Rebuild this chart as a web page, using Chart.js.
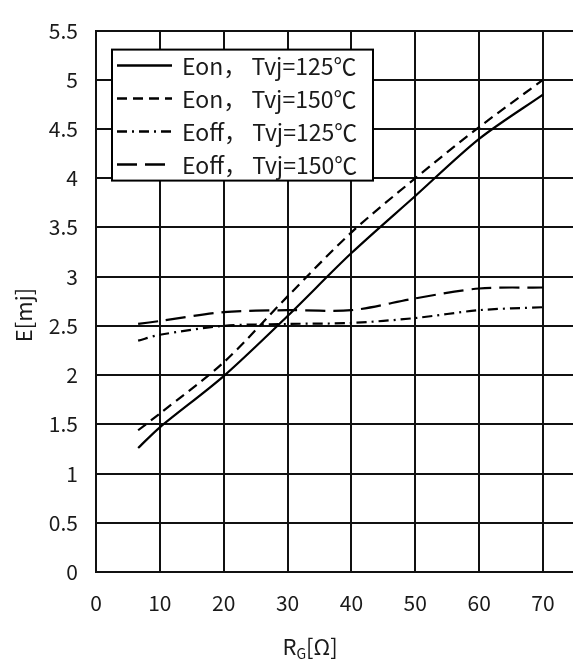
<!DOCTYPE html>
<html>
<head>
<meta charset="utf-8">
<script src="https://cdn.jsdelivr.net/npm/chart.js@4.4.1/dist/chart.umd.min.js"></script>
<style>
  html, body { margin: 0; padding: 0; background: #fff; }
  #wrap { width: 573px; height: 664px; }
</style>
</head>
<body>
<div id="wrap"><canvas id="lossChart"></canvas></div>
<script>
// gate resistance values (ohm)
const rg = [6.6, 10, 20, 30, 40, 50, 60, 70];

// switching energies (mJ)
const eon125 = [1.26, 1.47, 1.99, 2.60, 3.24, 3.82, 4.40, 4.85];
const eon150 = [1.44, 1.61, 2.13, 2.80, 3.45, 4.00, 4.52, 5.00];
const eoff125 = [2.35, 2.41, 2.50, 2.52, 2.53, 2.58, 2.66, 2.69];
const eoff150 = [2.52, 2.55, 2.64, 2.66, 2.66, 2.78, 2.88, 2.89];

// tick labels
const xTicks = ['0', '10', '20', '30', '40', '50', '60', '70'];
const yTicks = ['0', '0.5', '1', '1.5', '2', '2.5', '3', '3.5', '4', '4.5', '5', '5.5'];

const labels = ['Eon， Tvj=125℃', 'Eon， Tvj=150℃', 'Eoff， Tvj=125℃', 'Eoff， Tvj=150℃'];
const dashes = [[], [10, 6], [10, 5, 2, 5], [20, 8]];

const FONT = "'Noto Sans CJK SC', sans-serif";
const TXT = '#1a1a1a';

function toPoints(ys) {
    return rg.map((x, i) => ({ x: x, y: ys[i] }));
}

const series = [eon125, eon150, eoff125, eoff150];
const datasets = series.map((ys, i) => ({
    label: labels[i],
    data: toPoints(ys),
    borderColor: '#000',
    borderWidth: 2.2,
    borderDash: dashes[i],
    pointRadius: 0,
    fill: false,
    tension: 0.3
}));

// legend box inside the plot, top left
const boxLegend = {
    id: 'boxLegend',
    afterDraw(chart) {
        const c = chart.ctx;
        const a = chart.chartArea;
        const x0 = a.left + 16, y0 = a.top + 19;
        const w = 261, h = 131;
        c.save();
        c.fillStyle = '#fff';
        c.fillRect(x0, y0, w, h);
        c.strokeStyle = '#000';
        c.lineWidth = 2;
        c.strokeRect(x0, y0, w, h);
        chart.data.datasets.forEach((ds, i) => {
            const y = y0 + 16 + i * 33;
            c.beginPath();
            c.setLineDash(ds.borderDash);
            c.lineWidth = 2.5;
            c.moveTo(x0 + 5, y);
            c.lineTo(x0 + 60, y);
            c.stroke();
            c.setLineDash([]);
            c.fillStyle = TXT;
            c.font = '23px ' + FONT;
            c.textBaseline = 'middle';
            c.textAlign = 'left';
            c.fillText(ds.label, x0 + 70, y + 1);
        });
        c.restore();
    }
};

// axis titles (x title needs a subscript)
const axisTitles = {
    id: 'axisTitles',
    afterDraw(chart) {
        const c = chart.ctx;
        c.save();
        c.fillStyle = TXT;
        c.textBaseline = 'alphabetic';
        c.translate(32, 315);
        c.rotate(-Math.PI / 2);
        c.textAlign = 'center';
        c.font = '22px ' + FONT;
        c.fillText('E[mj]', 0, 0);
        c.restore();

        c.save();
        c.fillStyle = TXT;
        c.textBaseline = 'alphabetic';
        c.textAlign = 'left';
        const big = '22px ' + FONT, small = '14px ' + FONT;
        c.font = big;
        const wR = c.measureText('R').width;
        const wB = c.measureText('[Ω]').width;
        c.font = small;
        const wG = c.measureText('G').width;
        let x = 310 - (wR + wG + wB) / 2;
        const base = 655;
        c.font = big;
        c.fillText('R', x, base);
        x += wR;
        c.font = small;
        c.fillText('G', x, base + 4);
        x += wG;
        c.font = big;
        c.fillText('[Ω]', x, base);
        c.restore();
    }
};

new Chart(document.getElementById('lossChart'), {
    type: 'line',
    data: { datasets: datasets },
    options: {
        responsive: true,
        maintainAspectRatio: false,
        animation: false,
        layout: { padding: { top: 13, right: 0, bottom: 0, left: 0 } },
        plugins: {
            legend: { display: false },
            tooltip: { enabled: false }
        },
        scales: {
            x: {
                type: 'linear',
                min: 0,
                max: 74.7,
                ticks: {
                    stepSize: 10,
                    includeBounds: false,
                    padding: 18,
                    color: TXT,
                    font: { family: FONT, size: 21 },
                    maxRotation: 0,
                    callback: (v, i) => xTicks[i]
                },
                grid: { color: '#111', lineWidth: 2, drawTicks: false },
                border: { color: '#111', width: 2 },
                afterFit(scale) { scale.height = 92; }
            },
            y: {
                min: 0,
                max: 5.5,
                ticks: {
                    stepSize: 0.5,
                    padding: 18,
                    color: TXT,
                    font: { family: FONT, size: 21 },
                    callback: (v, i) => yTicks[i]
                },
                grid: { color: '#111', lineWidth: 2, drawTicks: false },
                border: { color: '#111', width: 2 },
                afterFit(scale) { scale.width = 96; }
            }
        }
    },
    plugins: [boxLegend, axisTitles]
});
</script>
</body>
</html>
